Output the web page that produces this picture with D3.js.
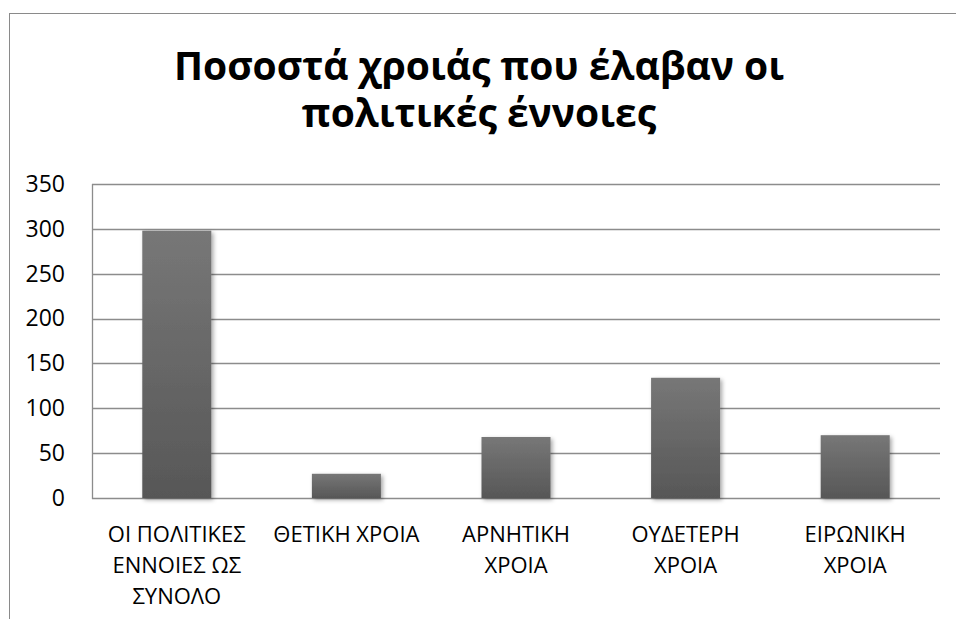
<!DOCTYPE html>
<html>
<head>
<meta charset="utf-8">
<script src="https://cdn.jsdelivr.net/npm/d3@7"></script>
<style>
  html, body { margin: 0; padding: 0; background: #fff; }
  svg { display: block; }
</style>
</head>
<body>
<svg id="chart" width="956" height="619"></svg>
<script>
// ---- data ----
const titleLines = ["Ποσοστά χροιάς που έλαβαν οι", "πολιτικές έννοιες"];
const categories = [
  "ΟΙ ΠΟΛΙΤΙΚΕΣ\nΕΝΝΟΙΕΣ ΩΣ\nΣΥΝΟΛΟ",
  "ΘΕΤΙΚΗ ΧΡΟΙΑ",
  "ΑΡΝΗΤΙΚΗ\nΧΡΟΙΑ",
  "ΟΥΔΕΤΕΡΗ\nΧΡΟΙΑ",
  "ΕΙΡΩΝΙΚΗ\nΧΡΟΙΑ"
];
const values = [298, 27, 68, 134, 70];
const yTicks = [0, 50, 100, 150, 200, 250, 300, 350];

// ---- layout ----
const svg = d3.select("#chart");
const plotL = 92, plotR = 940, plotT = 184, plotB = 498;
const font = "'Open Sans', 'Noto Sans', 'DejaVu Sans', sans-serif";

const defs = svg.append("defs");
const grad = defs.append("linearGradient").attr("id", "barGrad")
  .attr("x1", 0).attr("y1", 0).attr("x2", 0).attr("y2", 1);
grad.append("stop").attr("offset", "0%").attr("stop-color", "#777777");
grad.append("stop").attr("offset", "100%").attr("stop-color", "#575757");
const filt = defs.append("filter").attr("id", "shadow")
  .attr("x", "-20%").attr("y", "-20%").attr("width", "150%").attr("height", "150%");
filt.append("feDropShadow").attr("dx", 2).attr("dy", 2).attr("stdDeviation", 2.2)
  .attr("flood-color", "#000").attr("flood-opacity", 0.35);

// chart border
svg.append("rect").attr("x", 9.5).attr("y", 13.5).attr("width", 960).attr("height", 620)
  .attr("fill", "none").attr("stroke", "#8a8a8a").attr("stroke-width", 1);

// title
const title = svg.append("text").attr("text-anchor", "middle")
  .attr("font-family", font).attr("font-weight", "bold").attr("font-size", 39).attr("fill", "#000");
titleLines.forEach((t, i) => {
  title.append("tspan").attr("x", 479).attr("y", 80 + i * 47).text(t);
});

const y = d3.scaleLinear().domain([0, 350]).range([plotB, plotT]);
const x = d3.scaleBand().domain(categories).range([plotL, plotR]).padding(0);
const barW = x.bandwidth() * 0.407;

// gridlines
svg.append("g").selectAll("line").data(yTicks).join("line")
  .attr("x1", plotL).attr("x2", plotR)
  .attr("y1", d => Math.round(y(d)) + 0.5).attr("y2", d => Math.round(y(d)) + 0.5)
  .attr("stroke", "#8c8c8c").attr("stroke-width", 1.3);

// vertical axis line
svg.append("line").attr("x1", plotL + 0.5).attr("x2", plotL + 0.5)
  .attr("y1", plotT).attr("y2", plotB + 1)
  .attr("stroke", "#8c8c8c").attr("stroke-width", 1.3);

// bars
svg.append("g").selectAll("rect").data(values).join("rect")
  .attr("x", (d, i) => x(categories[i]) + (x.bandwidth() - barW) / 2)
  .attr("width", barW)
  .attr("y", d => y(d))
  .attr("height", d => y(0) - y(d))
  .attr("fill", "url(#barGrad)")
  .attr("filter", "url(#shadow)");

// y axis labels
const yAxis = svg.append("g").attr("transform", `translate(${plotL},0)`)
  .call(d3.axisLeft(y).tickValues(yTicks).tickSize(0).tickPadding(27));
yAxis.select(".domain").remove();
yAxis.selectAll("text").attr("font-family", font).attr("font-size", 23).attr("fill", "#000");

// category labels
const catG = svg.append("g");
categories.forEach(c => {
  const t = catG.append("text").attr("text-anchor", "middle")
    .attr("font-family", font).attr("font-size", 22).attr("fill", "#000");
  c.split("\n").forEach((line, j) => {
    t.append("tspan").attr("x", x(c) + x.bandwidth() / 2).attr("y", 542 + j * 31).text(line);
  });
});
</script>
</body>
</html>
